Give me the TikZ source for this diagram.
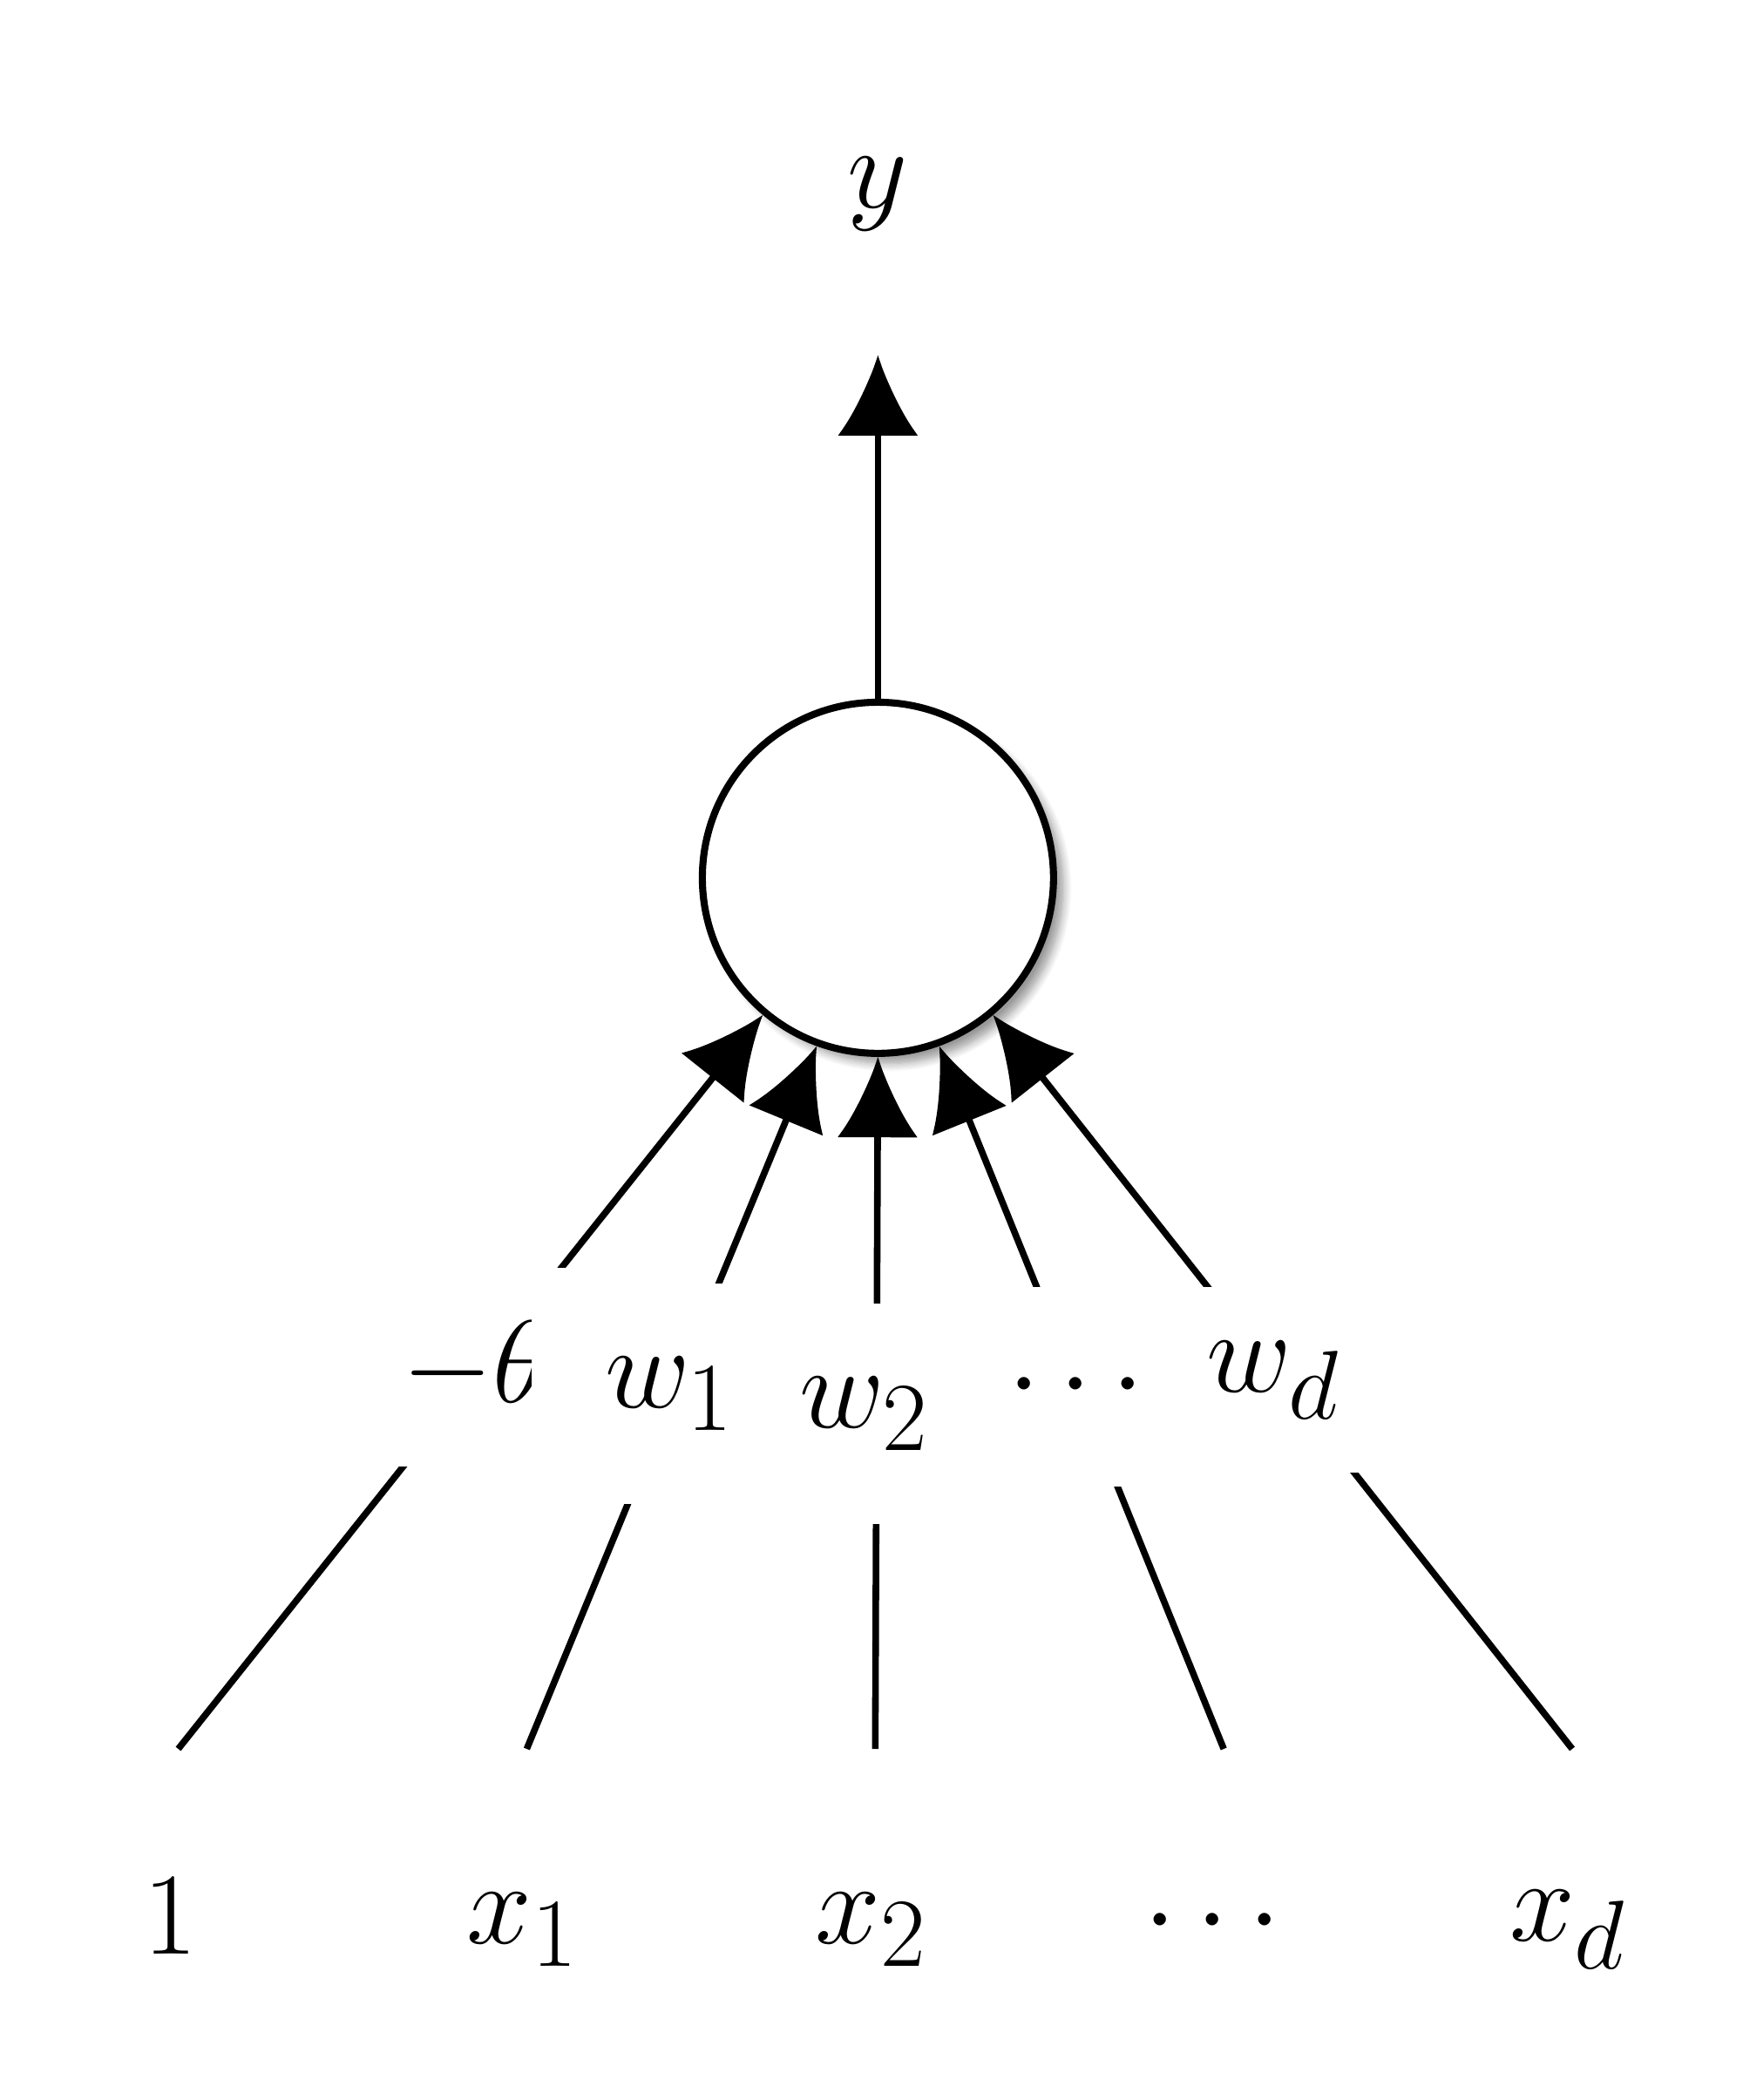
\documentclass[tikz,border=0pt]{standalone}
\usepackage{amsmath}
\usetikzlibrary{arrows.meta,shadows.blur}

\begin{document}
\begin{tikzpicture}[
  every node/.style={font=\fontsize{29}{34}\selectfont},
  neuron/.style={circle,draw,line width=1.5pt,minimum size=2.62cm,fill=white,blur shadow={shadow blur steps=8}},
  weight/.style={fill=white,inner sep=0.55cm},
  conn/.style={line width=1.4pt,-{Latex[length=0.6cm,width=0.6cm]}}
]
\useasboundingbox (0,0) rectangle (13,-15.67);
% output
\node (y) at (6.55,-1.45) {$y$};
\node[neuron] (n) at (6.55,-6.55) {};
% inputs
\node (i1) at (1.27,-14.3) {$1$};
\node (i2) at (3.9,-14.4) {$x_1$};
\node (i3) at (6.5,-14.4) {$x_2$};
\node (i4) at (9.12,-14.35) {$\cdots$};
\node (i5) at (11.7,-14.4) {$x_d$};
\coordinate (s1) at (1.33,-13.05);
\coordinate (s2) at (3.93,-13.05);
\coordinate (s3) at (6.53,-13.05);
\coordinate (s4) at (9.13,-13.05);
\coordinate (s5) at (11.73,-13.05);
\coordinate (out) at (6.55,-2.65);
% connectors
\draw[conn] (n.north) -- (out);
\draw[conn] (s1) -- (n.-130);
\draw[conn] (s2) -- (n.-110);
\draw[conn] (s3) -- (n.-90);
\draw[conn] (s4) -- (n.-70);
\draw[conn] (s5) -- (n.-50);
% weights
\node[weight,inner sep=0.4cm] (w0) at (3.55,-10.2) {$-\theta$};
\node[weight] (w1) at (5.0,-10.4) {$w_1$};
\node[weight] (w2) at (6.45,-10.55) {$w_2$};
\node[weight] (w3) at (8.1,-10.35) {$\cdots$};
\node[weight,inner sep=0.4cm] (w4) at (9.5,-10.3) {$w_d$};
\end{tikzpicture}
\end{document}
